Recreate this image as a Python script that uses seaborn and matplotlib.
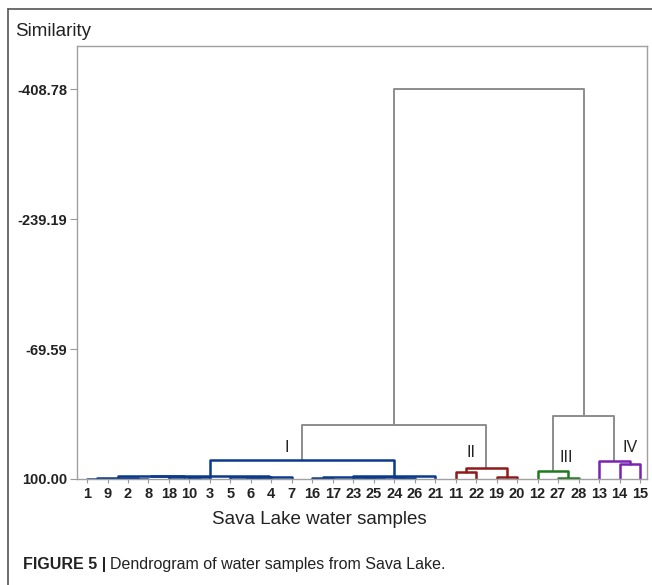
import matplotlib
matplotlib.use("Agg")
import matplotlib.pyplot as plt
import seaborn as sns
import pandas as pd
from matplotlib.lines import Line2D

# ---------------- data ----------------
leaf_order = ["1", "9", "2", "8", "18", "10", "3", "5", "6", "4", "7",
              "16", "17", "23", "25", "24", "26", "21",
              "11", "22", "19", "20",
              "12", "27", "28",
              "13", "14", "15"]

merge_names = ["a1", "a2", "a3", "a4", "a5", "a6", "a7", "a8", "a9", "IL",
               "b1", "b2", "b4", "b8", "b7", "IR", "I",
               "c1", "c2", "II", "I_II",
               "d1", "III", "e1", "IV", "III_IV", "ALL"]
merge_left = ["1", "2", "a1", "10", "18", "a3", "6", "5", "a8", "a6",
              "16", "23", "24", "b2", "b1", "b7", "IL",
              "11", "19", "c1", "I",
              "27", "12", "14", "13", "III", "I_II"]
merge_right = ["9", "8", "a2", "3", "a4", "a5", "4", "a7", "7", "a9",
               "17", "25", "26", "b4", "b8", "21", "IR",
               "22", "20", "c2", "II",
               "28", "d1", "15", "e1", "IV", "III_IV"]
merge_similarity = [99.7, 99.4, 98.6, 98.0, 97.4, 96.6, 97.8, 97.0, 96.8, 96.0,
                    99.0, 98.0, 98.6, 97.4, 96.9, 96.1, 75.2,
                    90.9, 97.4, 85.7, 29.6,
                    98.7, 89.6, 80.4, 76.5, 17.8, -408.78]
merge_group = ["I"] * 17 + ["II"] * 3 + ["link"] + ["III"] * 2 + ["IV"] * 2 + ["link", "link"]

ytick_values = [-408.78, -239.19, -69.59, 100.00]
ytick_labels = ["-408.78", "-239.19", "-69.59", "100.00"]
cluster_labels = ["I", "II", "III", "IV"]

group_colors = {"I": "#0b3a8c", "II": "#8e1b1b", "III": "#1d7a1d",
                "IV": "#7a22b4", "link": "#8c8c8c"}

# ---------------- layout of tree ----------------
pos = {leaf: i for i, leaf in enumerate(leaf_order)}
height = {leaf: 100.0 for leaf in leaf_order}
rows = []
for k, (name, l, r, s, g) in enumerate(zip(merge_names, merge_left, merge_right,
                                             merge_similarity, merge_group)):
    xl, xr = pos[l], pos[r]
    xs = [xl, xl, xr, xr]
    ys = [height[l], s, s, height[r]]
    for j, (xx, yy) in enumerate(zip(xs, ys)):
        rows.append({"seg": k, "order": j, "x": xx, "y": yy, "group": g})
    pos[name] = (xl + xr) / 2.0
    height[name] = s
df = pd.DataFrame(rows)

# ---------------- figure ----------------
sns.set_theme(style="white")
plt.rcParams["font.family"] = ["Liberation Sans", "DejaVu Sans"]

W, H = 652, 585
fig = plt.figure(figsize=(W / 100, H / 100), dpi=100)
ax = fig.add_axes([77 / W, 1 - 479 / H, 570 / W, 433 / H])

for g in ["link", "I", "II", "III", "IV"]:
    sub = df[df["group"] == g]
    sns.lineplot(data=sub, x="x", y="y", units="seg", estimator=None, sort=False,
                 color=group_colors[g], lw=1.4 if g == "link" else 1.8,
                 ax=ax, legend=False)

ax.set_xlim(-0.49, 27.34)
ax.set_ylim(100, -465)
ax.set_xlabel("")
ax.set_ylabel("")
ax.set_xticks(range(len(leaf_order)))
ax.set_xticklabels(leaf_order, fontsize=10.5, fontweight="bold", color="#222222")
ax.set_yticks(ytick_values)
ax.set_yticklabels(ytick_labels, fontsize=10.5, fontweight="bold", color="#222222")
ax.tick_params(axis="x", length=3, width=0.8, color="#999999", pad=3, bottom=True)
ax.tick_params(axis="y", length=5, width=0.8, color="#999999", pad=2, left=True)
for sp in ax.spines.values():
    sp.set_color("#a0a0a0")
    sp.set_linewidth(1.0)
    sp.set_visible(True)

# cluster labels
label_x = [9.77, 18.75, 23.4, 26.5]
label_y = [58.3, 66.0, 71.3, 58.3]
for t, lx, ly in zip(cluster_labels, label_x, label_y):
    ax.text(lx, ly, t, fontsize=11.5, ha="center", va="center", color="#222222")

# texts
fig.text(15 / W, 1 - 31 / H, "Similarity", fontsize=13.5, ha="left", va="center",
         color="#222222")
fig.text(319.5 / W, 1 - 519 / H, "Sava Lake water samples", fontsize=13.5,
         ha="center", va="center", color="#222222")

t1 = fig.text(23 / W, 1 - 565 / H, "FIGURE 5 |", fontsize=11.5, fontweight="bold",
              ha="left", va="center", color="#222222")
fig.canvas.draw()
bb = t1.get_window_extent(renderer=fig.canvas.get_renderer())
fig.text((bb.x1 + 4) / W, 1 - 565 / H, "Dendrogram of water samples from Sava Lake.",
         fontsize=11.5, ha="left", va="center", color="#222222")

# outer border
fig.add_artist(Line2D([8 / W, 8 / W], [0, 1 - 9 / H], transform=fig.transFigure,
                      color="#555555", lw=1.2))
fig.add_artist(Line2D([8 / W, 1], [1 - 9 / H, 1 - 9 / H], transform=fig.transFigure,
                      color="#555555", lw=1.2))

fig.savefig("out.png", dpi=100)
